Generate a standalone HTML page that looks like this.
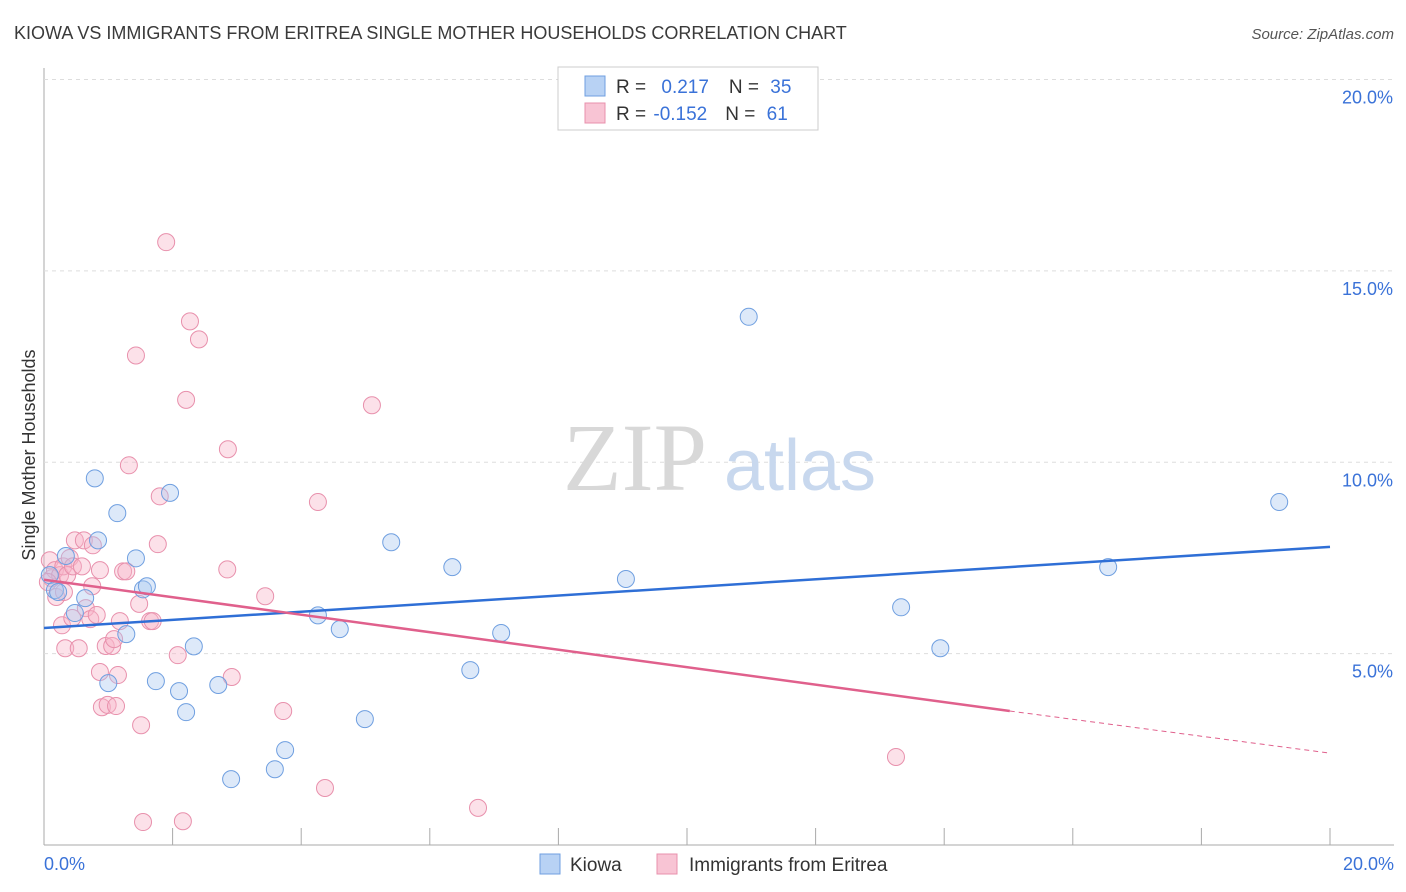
<!DOCTYPE html>
<html><head><meta charset="utf-8"><style>
body{margin:0;background:#fff;font-family:"Liberation Sans",sans-serif}
svg{display:block}
</style></head><body>
<svg width="1406" height="892">
<text x="14" y="39" font-size="18" fill="#3a3a3a">KIOWA VS IMMIGRANTS FROM ERITREA SINGLE MOTHER HOUSEHOLDS CORRELATION CHART</text>
<text x="1394" y="39" font-size="15" fill="#555" text-anchor="end" font-style="italic">Source: ZipAtlas.com</text>
<g id="grid"></g>
<text x="635" y="490" font-size="96" fill="#d8d8d8" font-family="Liberation Serif" text-anchor="middle">ZIP</text>
<text x="800" y="490" font-size="72" fill="#c8d8ee" text-anchor="middle">atlas</text>
<g id="pts"></g>
<g id="lines"></g>
<text transform="translate(35,455) rotate(-90)" font-size="18" fill="#333" text-anchor="middle">Single Mother Households</text>
<text x="44" y="870" font-size="18" fill="#3a72d8">0.0%</text>
<text x="1394" y="870" font-size="18" fill="#3a72d8" text-anchor="end">20.0%</text>
<g>
<rect x="558" y="67" width="260" height="63" fill="#fff" stroke="#ccc"/>
<rect x="585" y="76" width="20" height="20" fill="#b8d2f4" stroke="#6f9fe0"/>
<rect x="585" y="103" width="20" height="20" fill="#f8c4d4" stroke="#e890ac"/>
<text x="616" y="93" font-size="19" fill="#333">R = <tspan fill="#3a72d8" dx="10">0.217</tspan><tspan dx="20" fill="#333">N = </tspan><tspan fill="#3a72d8" dx="6">35</tspan></text>
<text x="616" y="120" font-size="19" fill="#333">R = <tspan fill="#3a72d8" dx="2">-0.152</tspan><tspan dx="18" fill="#333">N = </tspan><tspan fill="#3a72d8" dx="6">61</tspan></text>
</g>
<g>
<rect x="540" y="854" width="20" height="20" fill="#b8d2f4" stroke="#6f9fe0"/>
<text x="570" y="871" font-size="19" fill="#333">Kiowa</text>
<rect x="657" y="854" width="20" height="20" fill="#f8c4d4" stroke="#e890ac"/>
<text x="689" y="871" font-size="19" fill="#333">Immigrants from Eritrea</text>
</g>
</svg>
<script>
const yTicks=[5,10,15,20];
const kiowaX=[0.09,0.17,0.34,0.22,0.64,0.79,0.84,1.14,0.48,1.0,1.28,1.43,1.54,1.6,1.96,1.74,2.1,2.21,2.33,2.71,2.91,3.59,3.75,4.26,4.6,4.99,5.4,6.35,6.63,7.11,9.05,10.96,13.33,13.94,16.55,19.21];
const kiowaY=[7.05,6.66,7.55,6.61,6.45,9.58,7.96,8.67,6.06,4.23,5.51,7.49,6.68,6.76,9.2,4.28,4.02,3.47,5.19,4.18,1.72,1.98,2.48,6.0,5.64,3.29,7.91,7.26,4.57,5.54,6.95,13.8,6.21,5.14,7.26,8.96];
const eriX=[0.09,0.12,0.17,0.25,0.3,0.36,0.4,0.45,0.28,0.33,0.44,0.48,0.54,0.59,0.62,0.65,0.72,0.75,0.76,0.82,0.87,0.9,0.96,0.99,1.06,1.09,1.12,1.15,1.18,1.23,1.28,1.32,1.43,1.48,1.51,1.54,1.65,1.69,1.77,1.8,1.9,2.08,2.16,2.21,2.27,2.41,2.85,2.86,2.92,3.44,3.72,4.26,4.37,5.1,6.75,13.25,0.06,0.19,0.87,0.31];
const eriY=[7.44,6.97,7.18,7.05,7.28,7.05,7.5,7.28,5.74,5.14,5.93,7.96,5.14,7.28,7.96,6.19,5.9,6.76,7.83,6.01,4.52,3.6,5.2,3.66,5.2,5.38,3.63,4.44,5.85,7.15,7.15,9.92,12.79,6.3,3.13,0.6,5.85,5.85,7.86,9.11,15.75,4.96,0.62,11.63,13.68,13.21,7.2,10.34,4.39,6.5,3.5,8.96,1.49,11.49,0.97,2.3,6.87,6.48,7.18,6.61];
const X0=44,X1=1330,YT=79.5,YB=845;
const sx=v=>X0+(v/20)*(X1-X0), sy=v=>YB-(v/20)*(YB-YT);
const NS='http://www.w3.org/2000/svg';
function mk(t,a,p){const e=document.createElementNS(NS,t);for(const k in a)e.setAttribute(k,a[k]);p.appendChild(e);return e;}
const g=document.getElementById('grid');
mk('line',{x1:44,y1:68,x2:44,y2:YB,stroke:'#aaa'},g);
mk('line',{x1:44,y1:YB,x2:1394,y2:YB,stroke:'#aaa'},g);
for(let i=0;i<=10;i++){const l=mk('line',{x1:sx(i*2),x2:sx(i*2),y1:YB,y2:828,stroke:'#aaa'},g);}
yTicks.forEach(v=>{
const l=mk('line',{x1:44,x2:1394,y1:sy(v),y2:sy(v),stroke:'#ddd','stroke-dasharray':'4,4'},g);


const t=mk('text',{x:1393,y:sy(v)+24,'font-size':18,fill:'#3a72d8','text-anchor':'end'},g);
t.textContent=v.toFixed(1)+'%';


});
const p=document.getElementById('pts');
eriX.forEach((x,i)=>{const c=mk('circle',{cx:sx(x),cy:sy(eriY[i]),r:8.5,fill:'rgba(248,180,200,0.4)',stroke:'#e890ac','stroke-width':1},p);

});
kiowaX.forEach((x,i)=>{const c=mk('circle',{cx:sx(x),cy:sy(kiowaY[i]),r:8.5,fill:'rgba(170,200,240,0.4)',stroke:'#6f9fe0','stroke-width':1},p);

});
const L=document.getElementById('lines');
const b=mk('line',{x1:sx(0),y1:sy(5.67),x2:sx(20),y2:sy(7.79),stroke:'#2f6fd6','stroke-width':2.5},L);


const r1=mk('line',{x1:sx(0),y1:sy(6.93),x2:sx(15.02),y2:sy(3.5),stroke:'#e0608c','stroke-width':2.5},L);


const r2=mk('line',{x1:sx(15.02),y1:sy(3.5),x2:sx(20),y2:sy(2.4),stroke:'#e0608c','stroke-width':1,'stroke-dasharray':'5,4'},L);


</script>
</body></html>
